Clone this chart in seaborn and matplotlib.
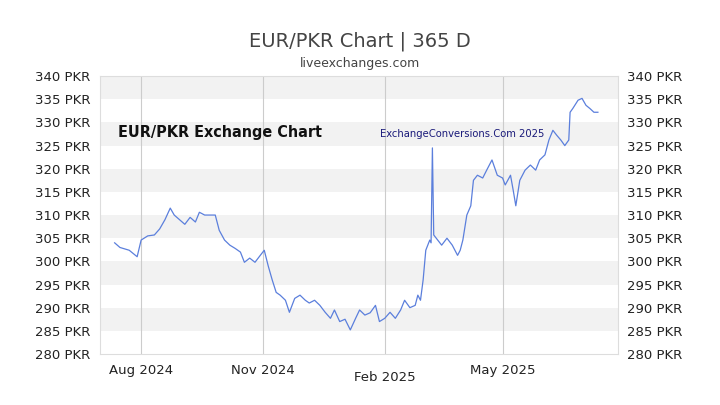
import numpy as np
import pandas as pd
import matplotlib
matplotlib.use("Agg")
import matplotlib.pyplot as plt
import matplotlib.dates as mdates
import seaborn as sns

# Datos: días desde 2024-07-12 y valor EUR/PKR
start_date = "2024-07-12"
day_offsets = [0, 4, 11, 17, 20, 25, 30, 34, 38, 42, 45, 49, 53, 57, 61, 64, 68, 76, 79, 83,
               87, 91, 95, 98, 102, 106, 110, 113, 116, 119, 122, 125, 129, 132, 136, 140, 144, 147, 151, 155,
               159, 163, 166, 170, 174, 178, 182, 185, 189, 193, 197, 200, 204, 208, 212, 216, 219, 223, 227, 229,
               231, 233, 235, 238, 239, 240, 241, 244, 247, 251, 255, 259, 261, 263, 266, 269, 271, 274, 278, 281,
               285, 289, 293, 295, 299, 301, 303, 306, 310, 314, 318, 321, 325, 328, 331, 334, 337, 340, 343, 344,
               346, 350, 353, 356, 359, 362, 365]
rates = [304.0, 303.0, 302.4, 301.0, 304.6, 305.5, 305.7, 307.0, 309.0, 311.5, 310.0, 309.0, 308.0, 309.5, 308.5, 310.6, 310.0, 310.0, 306.7, 304.6,
         303.5, 302.8, 302.0, 299.8, 300.7, 299.8, 301.3, 302.4, 299.0, 296.0, 293.3, 292.7, 291.6, 289.0, 292.0, 292.7, 291.6, 291.0, 291.6, 290.5,
         289.0, 287.7, 289.5, 287.0, 287.5, 285.2, 287.7, 289.5, 288.4, 288.9, 290.5, 287.0, 287.7, 289.0, 287.7, 289.5, 291.6, 290.0, 290.5, 292.7,
         291.6, 296.0, 302.4, 304.6, 304.0, 324.5, 305.7, 304.6, 303.5, 305.0, 303.5, 301.3, 302.4, 304.6, 310.0, 312.0, 317.5, 318.6, 318.0, 319.7,
         321.9, 318.6, 318.0, 316.5, 318.6, 315.4, 312.0, 317.5, 319.7, 320.8, 319.7, 321.9, 323.0, 326.2, 328.3, 327.2, 326.2, 325.0, 326.2, 332.2,
         333.0, 334.8, 335.2, 333.7, 333.0, 332.2, 332.2]

df = pd.DataFrame({"Fecha": pd.Timestamp(start_date) + pd.to_timedelta(day_offsets, unit="D"),
                   "Valor": rates})

fig, ax = plt.subplots(figsize=(7.2, 4.05), dpi=100)
fig.subplots_adjust(left=0.139, right=0.858, top=0.812, bottom=0.126)

# Bandas alternas
for lo in range(285, 340, 10):
    ax.axhspan(lo, lo + 5, color="#f2f2f2", zorder=0, lw=0)

sns.lineplot(data=df, x="Fecha", y="Valor", color="#5b7fdc", lw=0.9, ax=ax, zorder=3)

ax.set_ylim(280, 340)
ax.set_xlim(pd.Timestamp("2024-07-01"), pd.Timestamp("2025-07-27"))
ax.set_yticks(range(280, 341, 5))
ax.set_yticklabels([f"{v} PKR" for v in range(280, 341, 5)])
ax.tick_params(axis="y", which="both", labelright=True, right=False, left=False, labelsize=9.5, colors="#222222")
ax.xaxis.set_major_locator(mdates.MonthLocator(bymonth=[2, 5, 8, 11]))
ax.xaxis.set_major_formatter(mdates.DateFormatter("%b %Y"))
ax.tick_params(axis="x", bottom=False, labelsize=9.5, colors="#222222")
for lbl in ax.get_xticklabels():
    if lbl.get_text().startswith("Feb"):
        lbl.set_y(-0.025)
ax.grid(axis="x", color="#cccccc", lw=0.8)
ax.grid(axis="y", visible=False)
ax.set_xlabel("")
ax.set_ylabel("")
for s in ax.spines.values():
    s.set_color("#dddddd")

fig.text(0.5, 0.885, "EUR/PKR Chart | 365 D", ha="center", fontsize=14, color="#444444")
fig.text(0.5, 0.835, "liveexchanges.com", ha="center", fontsize=9, color="#444444")
ax.text(0.035, 0.78, "EUR/PKR Exchange Chart", transform=ax.transAxes, fontsize=11.5,
        fontweight="bold", color="#111111", fontstretch="condensed")
ax.text(0.54, 0.78, "ExchangeConversions.Com 2025", transform=ax.transAxes, fontsize=8,
        color="#1a1a7a", fontstretch="condensed")

fig.savefig("out.png", dpi=100)
